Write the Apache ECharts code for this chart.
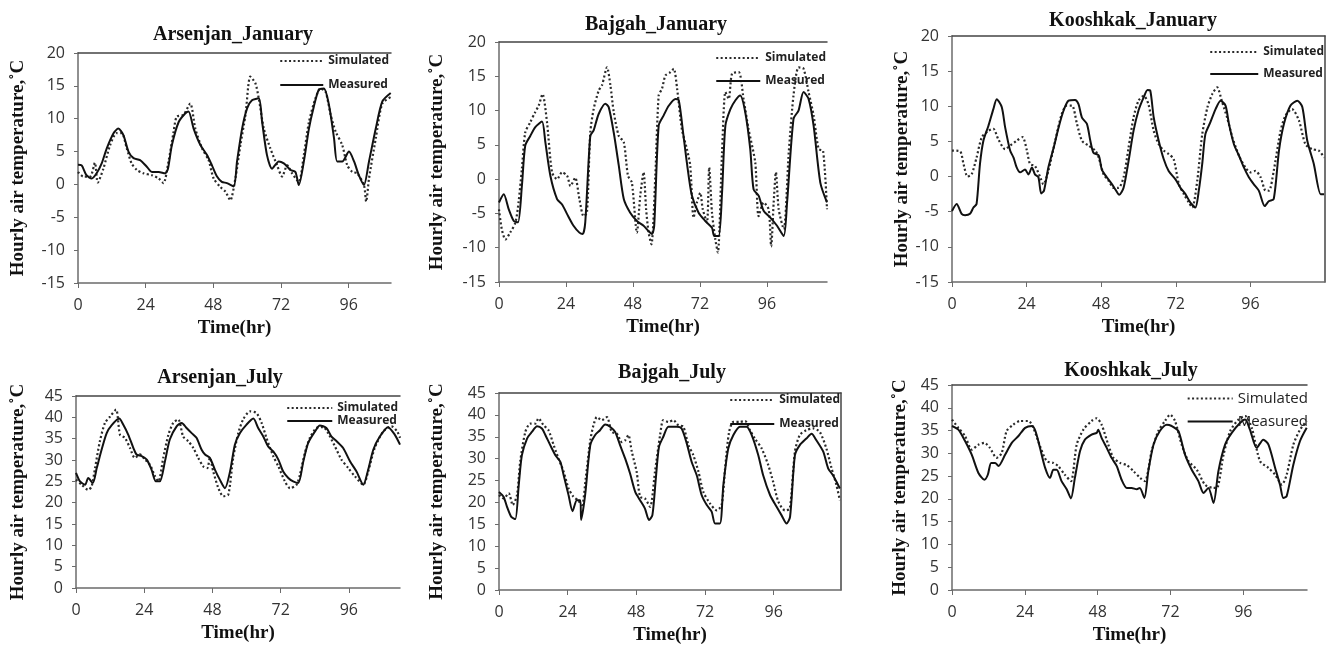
<!DOCTYPE html>
<html>
<head>
<meta charset="utf-8">
<title>Hourly air temperature, simulated vs measured</title>
<script src="https://cdn.jsdelivr.net/npm/echarts@6/dist/echarts.min.js"></script>
<style>
  html, body { margin: 0; padding: 0; background: #fff; }
  #main { width: 1333px; height: 647px; }
</style>
</head>
<body>
<div id="main"></div>
<script>
'use strict';

// x tick labels (hours) and y ticks
var hourTicks = [0, 24, 48, 72, 96];
var janRange = [-15, 20];
var julRange = [0, 45];

// Arsenjan, January  [hour, degC]
var arsJanSim = [[0,1.9],[1.9,1.2],[4.3,1.2],[6,3.3],[7,0.3],[9,2.4],[11.4,6.0],[13.7,7.8],[15.5,7.8],[17.3,5.5],[19,3.2],[20.9,2.2],[23.2,1.7],[26.2,1.4],[28.6,0.9],[30.3,0.2],[32.1,3.5],[33.9,8.0],[35,10.3],[37.4,10.6],[39.8,12.3],[41.6,8.5],[44,5.5],[46.3,3.7],[48.1,0.9],[50.5,-0.4],[52.3,-1.1],[54,-2.4],[55.8,0.9],[57.6,6.0],[59.4,10.6],[61.1,16.4],[62.9,15.4],[64.1,13.1],[65.9,8.5],[68.2,5.5],[70.6,2.9],[72.4,1.2],[74.2,2.9],[75.9,1.7],[78.3,0.4],[80.1,4.5],[81.9,9.5],[84.2,13.1],[86,14.6],[87.8,14.1],[89.6,10.6],[91.4,8.0],[93.7,6.0],[95.5,2.9],[97.3,1.9],[99,1.7],[101.4,-0.1],[102.2,-2.6],[103.2,0.9],[105.6,7.0],[107.9,12.3],[110.9,13.3]];
var arsJanMea = [[0,3.0],[1.3,2.9],[3,1.4],[4.9,0.9],[6.6,1.7],[8.4,3.2],[10.2,5.5],[12.6,7.8],[14.3,8.5],[16.1,7.5],[17.9,5.0],[19.7,4.0],[22,3.7],[24.4,2.7],[26.2,1.9],[28.6,1.9],[30.9,1.7],[31.9,2.4],[33.3,6.0],[35.7,9.5],[38,10.8],[39.2,11.1],[41,8.5],[43.4,6.0],[45.7,4.5],[47.5,2.9],[49.3,1.2],[51,0.4],[52.8,0.2],[55.2,-0.3],[56.4,3.5],[58.2,8.5],[60,11.6],[61.7,12.8],[64.1,13.1],[65.3,9.5],[67,4.5],[68.8,2.4],[71.2,3.5],[73,3.2],[75.4,2.2],[77.1,1.9],[78.3,-0.1],[80.1,3.5],[81.9,8.5],[83.6,11.8],[85.4,14.4],[87.2,14.6],[89,12.1],[90.8,7.0],[91.9,3.5],[93.7,3.5],[96.1,5.0],[97.9,3.5],[99.6,1.4],[101.4,-0.1],[103.2,3.5],[105.6,8.5],[107.9,12.6],[110.9,13.9]];

// Bajgah, January
var bajJanSim = [[0,-4.4],[1,-7.3],[2.3,-8.8],[4,-7.8],[5.9,-6.3],[7,-3.4],[8.2,1.5],[9.4,6.8],[11.2,8.3],[13,9.8],[14.2,10.7],[15.6,12.4],[17.2,8.3],[19,1.0],[20.8,0],[22.6,1.0],[24.4,0.5],[25.6,-1.0],[27.3,0.2],[28.8,-2.9],[30.3,-5.4],[31.5,-4.9],[32.7,6.8],[33.9,10.2],[35.7,12.9],[36.9,13.7],[38.7,16.3],[39.9,13.7],[41.1,9.8],[42.9,6.3],[44.7,5.4],[46.2,0.5],[47.6,-0.5],[49.4,-7.8],[50.6,-2.4],[51.8,1.0],[52.7,-4.4],[53.6,-7.8],[54.6,-9.5],[56,0.5],[57.2,12.2],[58.4,13.2],[59.6,15.1],[61.4,15.6],[62.6,16.1],[63.8,13.2],[65.5,7.3],[67.3,4.4],[68.5,2.0],[69.7,-5.6],[70.9,-3.4],[72.1,-2.0],[73,-4.4],[74.5,-6.3],[75.3,1.7],[76.3,-4.9],[77.5,-8.8],[78.4,-10.7],[79.9,3.9],[81.1,12.7],[82.3,11.7],[83.5,15.4],[85.9,15.6],[87.6,11.7],[89.4,7.3],[91.8,2.4],[93,-5.4],[94.8,-3.4],[96.6,-4.4],[97.5,-9.8],[98.4,-3.4],[99.2,1.0],[100.2,-4.4],[102,-7.3],[103.8,3.9],[105.5,12.2],[107.3,16.3],[109.1,16.1],[110.9,12.7],[112.7,9.3],[114.5,4.4],[116.1,4.1],[117.5,-4.4]];
var bajJanMea = [[0,-3.4],[1.7,-2.2],[3.5,-4.4],[5.3,-6.1],[6.8,-6.3],[8.2,-1.0],[9.4,4.9],[11.2,6.3],[13,7.6],[15.4,8.4],[16.6,5.4],[18.4,0.5],[20.8,-2.9],[22.6,-3.7],[24.4,-5.1],[26.7,-6.8],[28.8,-7.8],[30,-8.0],[30.9,-6.3],[32.7,6.3],[33.9,7.1],[35.7,9.5],[38.1,11.0],[39.3,10.5],[41.1,6.8],[42.9,2.0],[44.7,-2.9],[47,-4.9],[49.4,-6.1],[51.8,-6.8],[53.6,-7.6],[54.8,-8.0],[55.6,-6.8],[57.2,7.8],[59,9.3],[60.8,10.7],[63.2,11.7],[64.4,11.5],[66.1,6.3],[67.3,2.4],[69.1,-2.4],[71.5,-4.9],[73.9,-6.1],[76.3,-7.1],[77.1,-8.3],[78.7,-8.3],[79.9,-2.0],[81.1,7.8],[82.9,10.2],[84.7,11.5],[86.4,12.2],[88.2,9.8],[90,4.4],[91.2,-1.5],[93,-2.4],[94.8,-4.6],[97.2,-5.6],[99.6,-6.8],[102,-8.3],[103.2,-3.4],[105.5,8.8],[107.3,10.0],[109.1,12.7],[110.9,11.7],[112.7,7.8],[115.1,-0.5],[117.5,-3.4]];

// Kooshkak, January
var kooJanSim = [[0,3.7],[2.6,3.6],[3.7,1.8],[5,0],[6.3,0.3],[7.9,2.7],[9.6,5.6],[11.7,6.5],[13.3,6.8],[14.9,5.3],[17.1,3.9],[18.7,4.4],[20.8,5.1],[22.7,5.6],[24.1,3.7],[25.1,1.8],[26.7,1.5],[28.4,-0.1],[29.4,-1.1],[31,0.8],[33.2,5.1],[35.3,8.9],[36.9,10.1],[38.6,10.1],[40.2,7.5],[41.8,5.1],[43.9,4.4],[46.1,3.7],[47.2,2.7],[48.8,0.3],[50.4,-0.6],[52,-1.6],[53.6,-1.6],[55.2,-0.1],[56.8,4.1],[58.4,8.4],[60,10.8],[61.7,11.5],[63.2,10.3],[64.9,6.5],[66.5,4.6],[68.1,3.7],[69.7,3.2],[71.3,2.5],[73,-1.1],[74.6,-2.5],[76.2,-3.7],[77.3,-4.4],[78.9,-0.6],[80.5,6.0],[82.2,9.9],[83.8,11.8],[85.3,12.7],[86.9,10.6],[88.5,8.4],[90.2,5.6],[92.3,3.0],[94.4,1.3],[96,0.6],[97.6,0.8],[99.3,-0.1],[100.9,-2.0],[102,-2.0],[103.5,0.8],[105.7,6.5],[107.3,8.7],[109.4,9.6],[111.6,8.0],[113.7,4.6],[115.9,3.9],[118,3.7],[119.7,2.7]];
var kooJanMea = [[0,-4.9],[1.5,-3.9],[3.1,-5.3],[4.2,-5.5],[5.8,-5.3],[6.9,-4.4],[7.9,-3.9],[9,1.8],[10.1,5.1],[11.7,7.2],[13.3,9.6],[14.4,11.0],[16,9.9],[17.1,7.0],[18.7,3.7],[19.8,2.7],[20.8,1.3],[21.9,0.6],[23.5,1.0],[24.6,0.3],[25.7,1.3],[26.7,0.3],[27.8,-0.1],[28.7,-2.4],[29.6,-2.0],[31,1.3],[32.7,4.1],[34.3,7.0],[35.9,9.4],[37.5,10.8],[39.6,10.9],[40.7,10.3],[41.8,8.4],[43.4,7.5],[44.5,5.1],[45.5,3.4],[47.2,3.0],[48.2,1.0],[49.8,-0.1],[51.5,-1.1],[52.5,-1.8],[53.8,-2.6],[55.2,-1.6],[56.8,2.2],[58.4,6.5],[60,9.4],[61.7,11.3],[62.9,12.3],[63.8,12.2],[64.9,8.4],[66.5,5.1],[68.1,2.5],[69.7,0.8],[71.9,-0.4],[73.5,-1.6],[75.1,-2.5],[76.7,-3.7],[78.3,-4.4],[79.4,-2.0],[80.5,1.8],[81.5,6.0],[83.1,7.7],[84.8,9.6],[86.4,10.8],[88,10.1],[89.1,7.5],[90.7,4.6],[92.3,3.0],[93.9,1.3],[95.5,-0.1],[97.1,-1.1],[98.7,-2.0],[100.6,-4.2],[101.9,-3.5],[103.5,-3.2],[105.2,3.7],[106.8,7.5],[108.9,10.1],[111.1,10.8],[112.7,9.9],[114.3,5.1],[116.4,1.8],[118.6,-2.5],[119.7,-2.5]];

// Arsenjan, July
var arsJulSim = [[0,25.4],[2,24.2],[4.3,23.0],[5.5,23.8],[6.7,28.1],[8.4,34.4],[10.2,38.7],[12,40.2],[14.1,41.8],[15.5,35.9],[17.2,35.2],[19,32.8],[20.7,30.5],[22.5,31.3],[24.3,30.1],[26,28.9],[27.8,26.2],[29,25.0],[30.7,30.5],[32.5,35.9],[34.2,38.7],[36,39.5],[37.7,35.5],[39.5,34.4],[41.3,32.8],[43,30.5],[44.8,28.5],[46.2,28.1],[47.1,30.5],[48.3,27.3],[50.1,23.4],[51.8,21.5],[53.6,21.9],[55.3,30.5],[57.1,36.3],[58.8,39.5],[61.2,41.4],[63.5,41.0],[65.3,38.7],[67,35.2],[69.4,30.9],[71.2,28.5],[73.5,25.0],[75.3,23.4],[77.6,24.2],[78.8,26.6],[80.5,31.6],[82.3,35.2],[84.6,37.5],[87,37.7],[88.7,36.3],[91.1,33.2],[93.4,30.1],[95.8,28.1],[98.1,26.2],[101.1,24.2],[102.8,27.3],[105.1,32.8],[108.1,36.7],[111,37.9],[113,36.7],[114,35.2]];
var arsJulMea = [[0,27.0],[1.4,25.0],[3.2,24.2],[4.3,25.8],[5.9,24.6],[7.3,28.1],[9,32.4],[10.8,36.3],[12.5,38.1],[15.2,39.7],[16.6,38.3],[18.4,35.9],[20.2,32.8],[21.3,31.3],[23.1,30.9],[24.9,30.1],[26.6,27.7],[28.1,25.0],[29.5,25.0],[31.3,29.7],[33,34.8],[35.4,37.9],[37.2,38.7],[38.9,37.5],[40.7,36.3],[42.4,35.2],[44.2,32.4],[45.4,31.3],[47.1,30.5],[48.9,27.7],[50.6,25.4],[52.4,23.4],[54.2,27.3],[55.9,33.6],[57.7,36.3],[60,38.3],[62.4,39.7],[64.1,37.5],[65.9,35.5],[67.6,33.2],[69.4,32.0],[71.2,30.1],[72.9,27.3],[74.7,25.8],[76.4,25.0],[78.2,24.6],[80,29.7],[81.7,34.0],[84.1,36.7],[85.8,38.1],[88.1,37.5],[89.9,35.5],[91.7,34.4],[94,32.8],[96.4,29.7],[98.7,27.3],[101.1,24.2],[102.8,27.7],[104.6,32.4],[106.9,35.5],[109.8,37.7],[112.2,35.9],[114,33.6]];

// Bajgah, July
var bajJulSim = [[0,21.7],[1.6,20.9],[3.4,22.1],[4.8,19.4],[6.3,21.7],[7.4,29.3],[9.2,36.1],[10.9,38.0],[12.7,38.0],[13.8,39.2],[15.6,37.6],[17.3,36.5],[19.1,33.1],[20.8,30.0],[22.6,27.0],[24.3,23.2],[26,21.3],[27.6,20.5],[29,19.4],[30.3,25.5],[31.9,34.2],[33,37.6],[34.2,39.5],[35.9,38.8],[37.7,39.5],[39.4,36.1],[41.2,35.7],[42.9,33.8],[44.1,34.2],[45.2,35.4],[46.4,31.6],[48.1,27.0],[49.3,21.3],[51,20.9],[52.8,19.0],[54.5,27.0],[56.3,35.4],[57.4,38.8],[59.2,38.4],[60.9,38.8],[62.7,37.6],[64.4,37.3],[66.2,33.1],[67.9,30.8],[69.7,27.0],[71.4,22.4],[73.7,19.8],[76.1,18.2],[77.8,19.4],[79,27.8],[80.4,36.1],[81.9,38.4],[84.2,38.4],[86,38.6],[87.7,36.5],[89.4,34.6],[91.8,32.3],[94.1,28.5],[95.8,24.7],[97.6,20.2],[99.9,18.2],[101.6,18.6],[103.4,31.6],[105.1,35.4],[107.4,36.5],[109.8,36.9],[112.1,36.1],[114.4,32.3],[116.2,27.8],[117.9,24.0],[119.1,20.5]];
var bajJulMea = [[0,22.4],[1.6,21.3],[2.8,19.0],[4.3,16.7],[5.7,16.2],[6.9,24.0],[8,30.8],[9.8,34.6],[11.5,36.1],[13.3,37.4],[15,36.9],[16.2,35.4],[17.9,33.1],[19.7,30.8],[21.4,29.3],[22.6,26.2],[24.3,21.7],[25.7,18.0],[27.2,20.5],[28.4,20.5],[28.7,16.0],[30.1,21.7],[31.9,33.1],[33.6,35.4],[35.3,36.5],[37.1,37.8],[38.8,37.3],[40.6,36.1],[42.3,33.1],[44.1,30.0],[45.8,26.6],[47.6,22.4],[49.3,20.5],[51,18.6],[52.4,16.0],[53.6,17.1],[54.8,25.5],[55.9,32.7],[57.4,35.0],[59.2,37.3],[62.1,37.3],[63.8,36.9],[65.6,33.5],[67.3,29.3],[69.1,26.2],[70.8,21.7],[72.6,19.4],[74.3,17.9],[75.5,15.2],[77.2,15.2],[78.4,24.0],[80.1,32.3],[81.9,35.4],[84.2,37.3],[86.5,37.3],[88.3,35.4],[90.6,30.8],[92.3,26.2],[94.7,21.7],[97,19.0],[98.7,17.1],[100.5,15.2],[101.7,16.7],[103.4,30.8],[105.1,33.1],[107.4,34.6],[109.2,35.7],[110.9,34.2],[113.3,31.6],[115,27.8],[116.7,26.2],[119.1,23.2]];

// Kooshkak, July
var kooJulSim = [[0,37.4],[2.1,35.6],[4.3,33.8],[6.5,30.8],[8.7,31.9],[10.7,32.3],[12.5,31.2],[14.7,29.0],[16.4,30.1],[18,34.9],[20.2,36.3],[22.4,37.1],[25.2,37.1],[26.8,35.6],[29,31.6],[31.2,28.3],[33.4,27.9],[35,27.2],[37.2,25.3],[39.2,23.9],[41.1,31.9],[43.3,35.2],[46,37.1],[47.7,37.7],[49.3,36.3],[51.5,31.9],[53.2,29.0],[55.4,27.9],[57.6,27.4],[59.8,26.1],[62,24.6],[63.6,23.9],[65.8,30.5],[68,34.9],[70.2,37.1],[71.9,38.5],[73.5,37.1],[75.7,31.9],[77.9,28.3],[80.7,26.4],[83.4,23.1],[86.2,22.4],[87.3,22.4],[89.5,29.7],[91.7,34.9],[94.4,37.4],[96.6,38.2],[98.8,35.6],[101.5,28.3],[104.3,26.8],[106.5,25.3],[108.7,23.1],[110.3,25.3],[112.5,31.9],[114.7,35.2],[116.9,37.1]];
var kooJulMea = [[0,36.0],[2.1,35.2],[4.3,32.7],[6.5,29.7],[8.7,25.7],[10.7,24.2],[11.8,25.3],[12.9,27.9],[14.2,27.9],[15.3,27.2],[17.5,29.7],[19.7,32.3],[21.9,33.8],[24.1,35.6],[26.4,36.0],[27.5,34.9],[29,31.2],[30.7,26.8],[32.3,24.6],[33.4,26.4],[34.5,26.4],[36.1,23.9],[37.8,22.1],[39.2,20.1],[40.5,24.6],[42.2,30.5],[43.8,33.0],[46,34.1],[47.7,34.5],[48.2,35.2],[49.3,33.4],[51,31.2],[52.6,29.0],[54.3,27.2],[55.9,24.2],[57.6,22.4],[59.2,22.4],[60.9,22.1],[61.9,22.4],[63.4,20.2],[64.7,26.1],[66.4,31.9],[68.5,34.9],[70.8,36.3],[72.4,36.0],[74.6,34.9],[76.8,29.7],[79,26.4],[81.2,23.9],[82.9,21.3],[84.5,22.4],[86.2,19.1],[87.8,26.1],[90,31.9],[92.2,34.5],[95,36.7],[96.6,37.4],[98.2,35.2],[100.4,31.2],[102.6,33.0],[104.3,31.9],[106.5,26.8],[108.1,23.1],[109.2,20.2],[110.3,20.6],[112.5,27.5],[114.7,32.7],[116.9,35.6]];

var serif = '"Liberation Serif", "Times New Roman", serif';
var sans = '"Open Sans", "Liberation Sans", sans-serif';

// one entry per panel: data + where it sits on the page
var panels = [
    { title: 'Arsenjan_January', sim: arsJanSim, mea: arsJanMea, range: janRange, xMax: 111,
      grid: { left: 78, top: 53, width: 313, height: 230 }, titleX: 233, titleTop: 25,
      nameGap: 50, rightLine: false,
      legend: { right: 944, top: 55, itemGap: 12, itemWidth: 43, font: 12, bold: true } },
    { title: 'Bajgah_January', sim: bajJanSim, mea: bajJanMea, range: janRange, xMax: 117.5,
      grid: { left: 499, top: 42, width: 328, height: 240 }, titleX: 656, titleTop: 15,
      nameGap: 52, rightLine: false,
      legend: { right: 507, top: 52, itemGap: 11, itemWidth: 44, font: 12, bold: true } },
    { title: 'Kooshkak_January', sim: kooJanSim, mea: kooJanMea, range: janRange, xMax: 120,
      grid: { left: 952, top: 36, width: 373, height: 246 }, titleX: 1133, titleTop: 11,
      nameGap: 36, rightLine: true,
      legend: { right: 9, top: 46, itemGap: 10, itemWidth: 48, font: 12, bold: true } },
    { title: 'Arsenjan_July', sim: arsJulSim, mea: arsJulMea, range: julRange, xMax: 114,
      grid: { left: 76, top: 396, width: 324, height: 192 }, titleX: 220, titleTop: 368,
      nameGap: 48, rightLine: false,
      legend: { right: 935, top: 402, itemGap: 1, itemWidth: 45, font: 12, bold: true } },
    { title: 'Bajgah_July', sim: bajJulSim, mea: bajJulMea, range: julRange, xMax: 119.5,
      grid: { left: 499, top: 393, width: 342, height: 197 }, titleX: 672, titleTop: 363,
      nameGap: 52, rightLine: true,
      legend: { right: 493, top: 394, itemGap: 12, itemWidth: 44, font: 12, bold: true } },
    { title: 'Kooshkak_July', sim: kooJulSim, mea: kooJulMea, range: julRange, xMax: 117,
      grid: { left: 952, top: 385, width: 355, height: 205 }, titleX: 1131, titleTop: 361,
      nameGap: 42, rightLine: false,
      legend: { right: 25, top: 391, itemGap: 8, itemWidth: 45, font: 15, bold: false } }
];

var axisColor = '#6b6b6b';

function buildOption() {
    var option = {
        animation: false,
        backgroundColor: '#fff',
        color: ['#2a2a2a', '#111'],
        title: [], grid: [], xAxis: [], yAxis: [], legend: [], series: []
    };

    panels.forEach(function (p, i) {
        option.title.push({
            text: p.title,
            left: p.titleX,
            top: p.titleTop,
            textAlign: 'center',
            padding: 0,
            textStyle: { fontFamily: serif, fontWeight: 'bold', fontSize: 20, color: '#111' }
        });

        option.grid.push(Object.assign({ containLabel: false }, p.grid));

        var xMain = option.xAxis.length;
        option.xAxis.push({
            type: 'value', gridIndex: i, min: 0, max: p.xMax, interval: 24,
            name: 'Time(hr)', nameLocation: 'middle', nameGap: 36,
            nameTextStyle: { fontFamily: serif, fontWeight: 'bold', fontSize: 19, color: '#111' },
            axisLine: { show: true, onZero: false, lineStyle: { color: axisColor, width: 1.5 } },
            axisTick: { show: true, length: 5, customValues: hourTicks, lineStyle: { color: axisColor } },
            axisLabel: { customValues: hourTicks, margin: 14, fontFamily: sans, fontSize: 16, color: '#333' },
            splitLine: { show: false }
        });
        // top frame line
        option.xAxis.push({
            type: 'value', gridIndex: i, position: 'top', min: 0, max: p.xMax,
            axisLine: { show: true, onZero: false, lineStyle: { color: '#444', width: 1.5 } },
            axisTick: { show: false }, axisLabel: { show: false }, splitLine: { show: false }
        });

        var yMain = option.yAxis.length;
        option.yAxis.push({
            type: 'value', gridIndex: i, min: p.range[0], max: p.range[1], interval: 5,
            name: 'Hourly air temperature,\u02DAC', nameLocation: 'middle', nameGap: p.nameGap,
            nameRotate: 90,
            nameTextStyle: { fontFamily: serif, fontWeight: 'bold', fontSize: 19, color: '#111' },
            axisLine: { show: true, onZero: false, lineStyle: { color: axisColor, width: 1.5 } },
            axisTick: { show: true, length: 4, lineStyle: { color: axisColor } },
            axisLabel: { margin: 13, fontFamily: sans, fontSize: 16, color: '#333' },
            splitLine: { show: false }
        });
        if (p.rightLine) {
            option.yAxis.push({
                type: 'value', gridIndex: i, position: 'right', min: p.range[0], max: p.range[1],
                axisLine: { show: true, onZero: false, lineStyle: { color: '#444', width: 1.5 } },
                axisTick: { show: false }, axisLabel: { show: false }, splitLine: { show: false }
            });
        }

        option.series.push({
            name: 'Simulated', type: 'line', xAxisIndex: xMain, yAxisIndex: yMain,
            data: p.sim, symbol: 'none', smooth: 0.25,
            itemStyle: { color: '#2a2a2a' },
            lineStyle: { color: '#2a2a2a', width: 2.2, type: [2, 2.4] },
            z: 3
        });
        option.series.push({
            name: 'Measured', type: 'line', xAxisIndex: xMain, yAxisIndex: yMain,
            data: p.mea, symbol: 'none', smooth: 0.25,
            itemStyle: { color: '#111' },
            lineStyle: { color: '#111', width: 2 },
            z: 4
        });

        option.legend.push({
            data: ['Simulated', 'Measured'],
            orient: 'vertical',
            right: p.legend.right,
            top: p.legend.top,
            padding: 0,
            itemGap: p.legend.itemGap,
            itemWidth: p.legend.itemWidth,
            itemHeight: 14,
            selectedMode: false,
            // only the line sample, no symbol in the middle
            itemStyle: { color: 'rgba(0,0,0,0)', borderColor: 'rgba(0,0,0,0)', borderWidth: 0, opacity: 0 },
            textStyle: {
                fontFamily: sans,
                fontSize: p.legend.font,
                fontWeight: p.legend.bold ? 'bold' : 'normal',
                color: '#222'
            }
        });
    });

    return option;
}

var myChart = echarts.init(document.getElementById('main'));
myChart.setOption(buildOption());
</script>
</body>
</html>
